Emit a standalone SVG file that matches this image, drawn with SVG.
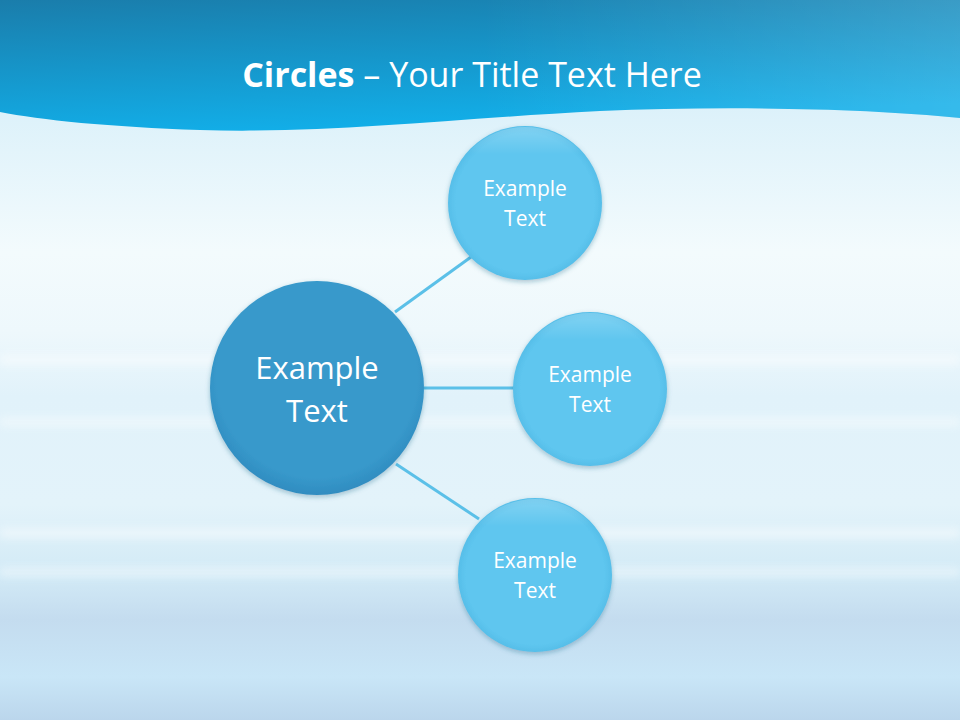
<svg xmlns="http://www.w3.org/2000/svg" width="960" height="720" viewBox="0 0 960 720">
<defs>
<linearGradient id="bg" x1="0" y1="0" x2="0" y2="720" gradientUnits="userSpaceOnUse">
<stop offset="0.15" stop-color="#dcf1fa"/>
<stop offset="0.35" stop-color="#f3fbfd"/>
<stop offset="0.46" stop-color="#eef8fc"/>
<stop offset="0.55" stop-color="#e1f2fa"/>
<stop offset="0.70" stop-color="#e3f3fa"/>
<stop offset="0.80" stop-color="#d2eaf6"/>
<stop offset="0.86" stop-color="#c4dcef"/>
<stop offset="0.94" stop-color="#c9e6f7"/>
<stop offset="1" stop-color="#bbd6ec"/>
</linearGradient>
<linearGradient id="hdr" x1="0" y1="0" x2="0.3" y2="1">
<stop offset="0" stop-color="#1a7dab"/>
<stop offset="1" stop-color="#12aee8"/>
</linearGradient>
<linearGradient id="hdr2" x1="0" y1="0" x2="1" y2="0">
<stop offset="0.5" stop-color="#ffffff" stop-opacity="0"/>
<stop offset="1" stop-color="#ffffff" stop-opacity="0.15"/>
</linearGradient>
<radialGradient id="big" cx="0.5" cy="0.45" r="0.55">
<stop offset="0.85" stop-color="#3899cb"/>
<stop offset="1" stop-color="#2f8cc0"/>
</radialGradient>
<radialGradient id="small" cx="0.5" cy="0.5" r="0.55">
<stop offset="0.82" stop-color="#5ec6ef"/>
<stop offset="1" stop-color="#4fb6e2"/>
</radialGradient>
<linearGradient id="hl" x1="0" y1="0" x2="0" y2="1">
<stop offset="0" stop-color="#ffffff" stop-opacity="0.22"/>
<stop offset="0.18" stop-color="#ffffff" stop-opacity="0"/>
</linearGradient>
<filter id="sh" x="-20%" y="-20%" width="140%" height="140%">
<feDropShadow dx="0" dy="2" stdDeviation="2.5" flood-color="#1f5f80" flood-opacity="0.35"/>
</filter>
<filter id="blur" x="-5%" y="-200%" width="110%" height="500%">
<feGaussianBlur stdDeviation="4"/>
</filter>
</defs>
<style>
.t{font-family:"Open Sans","Noto Sans","Liberation Sans",sans-serif;fill:#ffffff;text-anchor:middle}
.s{font-size:21px}
.b{font-size:31px}
.ln{stroke:#5bc0e8;stroke-width:3;fill:none}
</style>
<rect x="0" y="0" width="960" height="720" fill="url(#bg)"/>
<g opacity="0.45" fill="#ffffff" filter="url(#blur)">
<rect x="0" y="355" width="960" height="10"/>
<rect x="0" y="418" width="960" height="8"/>
<rect x="0" y="528" width="960" height="10"/>
<rect x="0" y="568" width="960" height="8"/>
</g>
<g id="header">
<path d="M0,0 H960 V118 C860,108 720,106 600,111 C460,118 330,134 200,130 C110,127 40,120 0,112 Z" fill="url(#hdr)"/>
<path d="M0,0 H960 V118 C860,108 720,106 600,111 C460,118 330,134 200,130 C110,127 40,120 0,112 Z" fill="url(#hdr2)"/>
<text class="t" x="472" y="87" font-size="34"><tspan font-weight="bold">Circles</tspan> – Your Title Text Here</text>
</g>
<g id="connectors">
<line class="ln" x1="395" y1="312" x2="471" y2="257"/>
<line class="ln" x1="424" y1="388" x2="515" y2="388"/>
<line class="ln" x1="396" y1="464" x2="479" y2="519"/>
</g>
<g id="center">
<circle cx="317" cy="388" r="107" fill="url(#big)" filter="url(#sh)"/>
<text class="t b" x="317" y="379">Example</text>
<text class="t b" x="317" y="422">Text</text>
</g>
<g id="node-top">
<circle cx="525" cy="203" r="77" fill="url(#small)" filter="url(#sh)"/>
<circle cx="525" cy="203" r="76" fill="url(#hl)"/>
<text class="t s" x="525" y="196">Example</text>
<text class="t s" x="525" y="226">Text</text>
</g>
<g id="node-middle">
<circle cx="590" cy="389" r="77" fill="url(#small)" filter="url(#sh)"/>
<circle cx="590" cy="389" r="76" fill="url(#hl)"/>
<text class="t s" x="590" y="382">Example</text>
<text class="t s" x="590" y="412">Text</text>
</g>
<g id="node-bottom">
<circle cx="535" cy="575" r="77" fill="url(#small)" filter="url(#sh)"/>
<circle cx="535" cy="575" r="76" fill="url(#hl)"/>
<text class="t s" x="535" y="568">Example</text>
<text class="t s" x="535" y="598">Text</text>
</g>
</svg>
